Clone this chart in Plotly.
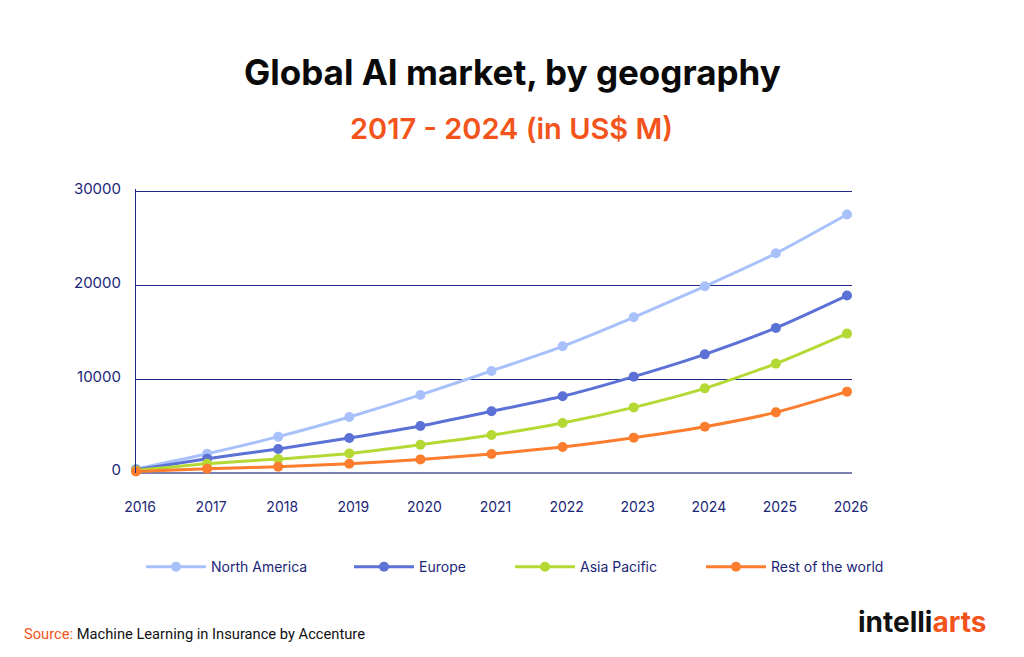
import plotly.graph_objects as go

years = [2016, 2017, 2018, 2019, 2020, 2021, 2022, 2023, 2024, 2025, 2026]
north_america = [430, 2060, 3880, 5980, 8330, 10890, 13520, 16610, 19920, 23440, 27580]
europe = [350, 1530, 2560, 3740, 5020, 6580, 8180, 10280, 12660, 15480, 18930]
asia_pacific = [280, 990, 1490, 2090, 3020, 4050, 5340, 7000, 9030, 11670, 14870]
rest_of_world = [170, 460, 670, 990, 1450, 2030, 2780, 3770, 4940, 6470, 8680]
series_names = ["North America", "Europe", "Asia Pacific", "Rest of the world"]
y_ticks = [0, 10000, 20000, 30000]

colors = ["#a9c1fb", "#5b71d6", "#b5d934", "#fb7d2d"]
navy = "#1c2677"
font = "Inter"

W, H = 1024, 657
OFF = 8  # page offset of the figure
Y_TOP = 30300
L, R = 136 - OFF, 852 - OFF
B = 473 - OFF
T = B - 281 * Y_TOP / 30000

def px_x(p):
    return (p - OFF - L) / (R - L)

def px_y(p):
    return (B - (p - OFF)) / (B - T)

fig = go.Figure()
legend_x = [147, 355, 516, 707]
for i, (name, vals) in enumerate(zip(series_names, [north_america, europe, asia_pacific, rest_of_world])):
    lg = "legend" if i == 0 else f"legend{i+1}"
    fig.add_trace(go.Scatter(
        x=years, y=vals, name=name, mode="lines+markers",
        line=dict(color=colors[i], width=3, shape="spline", smoothing=0.6),
        marker=dict(color=colors[i], size=10),
        cliponaxis=False, legend=lg,
    ))

leg_common = dict(orientation="h", yanchor="middle", y=px_y(567),
                  xanchor="left", font=dict(family=font, size=14, color=navy),
                  bgcolor="rgba(0,0,0,0)", itemwidth=60, borderwidth=0)
legends = {}
for i in range(4):
    key = "legend" if i == 0 else f"legend{i+1}"
    legends[key] = dict(leg_common, x=px_x(legend_x[i] - 6))

fig.update_layout(
    width=W, height=H,
    margin=dict(l=L, r=W - R, t=T, b=H - B, pad=0),
    paper_bgcolor="white", plot_bgcolor="white",
    showlegend=True,
    xaxis=dict(range=[2016, 2016 + 10 * (R - L) / 711], tickmode="array", tickvals=years,
               ticktext=[str(y) for y in years], showgrid=False, zeroline=False,
               showline=False, ticks="", ticklabelstandoff=24, ticklabelshift=4,
               tickfont=dict(family=font, size=14, color=navy), fixedrange=True),
    yaxis=dict(range=[0, Y_TOP], tickmode="array", tickvals=y_ticks,
               ticktext=[str(v) for v in y_ticks], showgrid=True, gridcolor="#1e2a8a",
               gridwidth=1, zeroline=True, zerolinecolor="#7a7fb2", zerolinewidth=2,
               showline=True, linecolor="#1e2a8a", linewidth=1, ticks="",
               ticklabelstandoff=11, ticklabelshift=-3,
               tickfont=dict(family=font, size=15, color=navy), fixedrange=True),
    **legends,
)

fig.add_annotation(text="<b>Global AI market, by geography</b>", xref="paper", yref="paper",
                   x=px_x(512), y=px_y(72), xanchor="center", yanchor="middle",
                   showarrow=False, font=dict(family=font, size=35, color="#0a0a0a"))
fig.add_annotation(text="2017 - 2024 (in US$ M)", xref="paper", yref="paper",
                   x=px_x(511), y=px_y(129), xanchor="center", yanchor="middle",
                   showarrow=False, font=dict(family=font, size=29, color="#f2541b", weight=600))
fig.add_annotation(text="<span style='color:#f2541b'>Source:</span> Machine Learning in Insurance by Accenture",
                   xref="paper", yref="paper", x=px_x(22), y=px_y(634),
                   xanchor="left", yanchor="middle", showarrow=False,
                   font=dict(family="Roboto", size=14.7, color="#111111"))
fig.add_annotation(text="<b>intelli<span style='color:#f2541b'>arts</span></b>",
                   xref="paper", yref="paper", x=px_x(988), y=px_y(622),
                   xanchor="right", yanchor="middle", showarrow=False,
                   font=dict(family=font, size=28, color="#111111"))

fig.write_html("out.html")
